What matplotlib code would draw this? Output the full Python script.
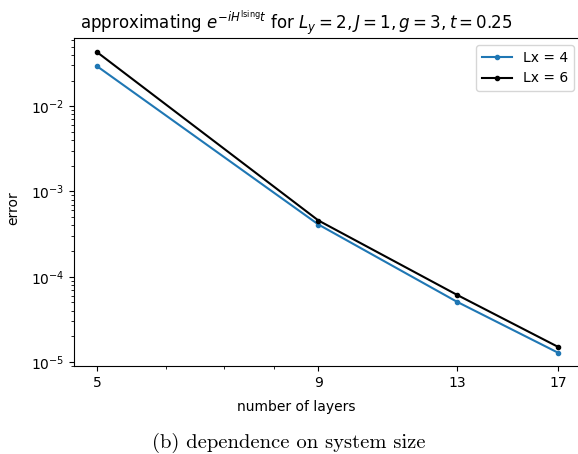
import matplotlib
matplotlib.use('Agg')
import matplotlib.pyplot as plt
from matplotlib.ticker import NullFormatter, FixedLocator

layers = [5, 9, 13, 17]
err_lx4 = [0.0294, 4.10e-4, 5.1e-5, 1.29e-5]
err_lx6 = [0.043, 4.57e-4, 6.15e-5, 1.51e-5]

W, H = 578, 454
fig = plt.figure(figsize=(W / 100, H / 100), dpi=100)
ax = fig.add_axes([74 / W, 1 - 366 / H, (581 - 74) / W, (366 - 38) / H])

ax.plot(layers, err_lx4, '.-', color='#1f77b4', label='Lx = 4')
ax.plot(layers, err_lx6, '.-', color='k', label='Lx = 6')

ax.set_xscale('log')
ax.set_yscale('log')
ax.set_ylim(9e-6, 0.063)
ax.xaxis.set_major_locator(FixedLocator(layers))
ax.set_xticklabels([str(v) for v in layers])
ax.xaxis.set_minor_formatter(NullFormatter())
ax.tick_params(labelsize=10)

ax.set_xlabel('number of layers', fontsize=10)
ax.xaxis.set_label_coords((296 - 74) / (581 - 74), -0.105)
ax.set_ylabel('error', fontsize=10)
ax.yaxis.set_label_coords(-0.107, 0.48)
ax.set_title(r'approximating $e^{-iH^{\mathrm{Ising}}t}$ for $L_y=2, J=1, g=3, t=0.25$',
             fontsize=12, x=(296 - 74) / (581 - 74))
ax.legend(loc='upper right', fontsize=10, handlelength=2.2)

fig.text(289 / W, 1 - 443 / H, '(b) dependence on system size', family='cmr10',
         fontsize=14.8, ha='center', va='center')

fig.savefig('out.png', dpi=100)
